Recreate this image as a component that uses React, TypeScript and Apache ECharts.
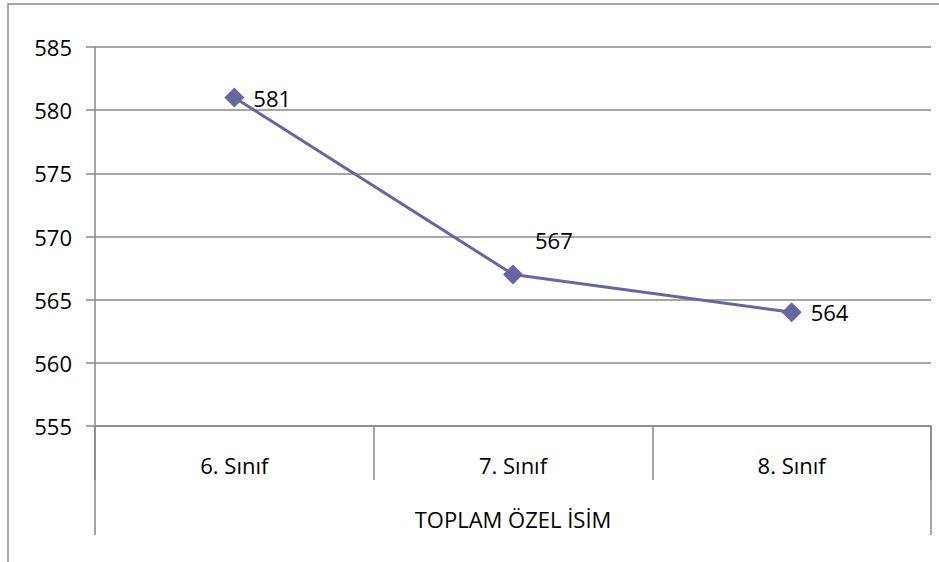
import React, { useEffect, useRef } from "react";
import * as echarts from "echarts";

const categories = ["6. Sınıf", "7. Sınıf", "8. Sınıf"];
const groupLabel = ["TOPLAM ÖZEL İSİM"];
const values = [581, 567, 564];
const yMin = 555;
const yMax = 585;
const yStep = 5;

const FONT = "'Open Sans', 'Noto Sans', sans-serif";
const GRAY = "#888888";
const LINE = "#6666A3";

export default function App() {
  const ref = useRef<HTMLDivElement>(null);
  useEffect(() => {
    if (!ref.current) return;
    const chart = echarts.init(ref.current, undefined, { renderer: "svg" });
    chart.setOption({
      animation: false,
      backgroundColor: "#ffffff",
      grid: { left: 95, right: 8, top: 47, bottom: 136, containLabel: false },
      graphic: [
        {
          type: "rect",
          shape: { x: 8, y: 4, width: 1200, height: 1200 },
          style: { fill: "none", stroke: GRAY, lineWidth: 1.5 },
          silent: true,
          z: -1,
        },
      ],
      xAxis: [
        {
          type: "category",
          data: categories,
          boundaryGap: true,
          axisLine: { show: true, lineStyle: { color: GRAY, width: 1.5 } },
          axisTick: { show: true, length: 54, lineStyle: { color: GRAY, width: 1.5 } },
          axisLabel: { margin: 28, fontFamily: FONT, fontSize: 22, color: "#000" },
          splitLine: { show: false },
        },
        {
          type: "category",
          data: groupLabel,
          position: "bottom",
          boundaryGap: true,
          axisLine: { show: false },
          axisTick: { show: true, length: 109, lineStyle: { color: GRAY, width: 1.5 } },
          axisLabel: { margin: 82, fontFamily: FONT, fontSize: 22, color: "#000" },
          splitLine: { show: false },
        },
      ],
      yAxis: {
        type: "value",
        min: yMin,
        max: yMax,
        interval: yStep,
        axisLine: { show: true, lineStyle: { color: GRAY, width: 1.5 } },
        axisTick: { show: true, length: 9, lineStyle: { color: GRAY, width: 1.5 } },
        axisLabel: { margin: 23, fontFamily: FONT, fontSize: 22, color: "#000" },
        splitLine: { show: true, lineStyle: { color: GRAY, width: 1.5 } },
      },
      series: [
        {
          type: "line",
          xAxisIndex: 0,
          data: values.map((v, i) =>
            i === 1
              ? { value: v, label: { position: "right", offset: [3, -34] } }
              : { value: v }
          ),
          symbol: "diamond",
          symbolSize: 20,
          itemStyle: { color: LINE },
          lineStyle: { color: LINE, width: 3 },
          label: {
            show: true,
            position: "right",
            distance: 9,
            fontFamily: FONT,
            fontSize: 22,
            color: "#000",
          },
        },
      ],
    });
    return () => chart.dispose();
  }, []);
  return (
    <div
      ref={ref}
      style={{ position: "absolute", left: 0, top: 0, width: 939, height: 562 }}
    />
  );
}
